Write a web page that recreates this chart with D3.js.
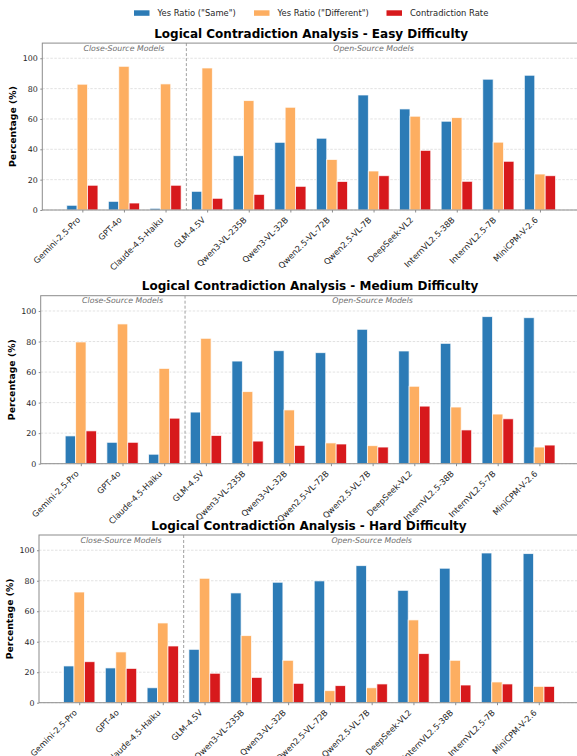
<!DOCTYPE html>
<html>
<head>
<meta charset="utf-8">
<script src="https://cdn.jsdelivr.net/npm/d3@7"></script>
<style>
  html, body { margin: 0; padding: 0; background: #fff; }
  svg { display: block; font-family: 'DejaVu Sans', sans-serif; }
</style>
</head>
<body>
<div id="chart"></div>
<script>
// data ---------------------------------------------------------------------------------------
const models = ['Gemini-2.5-Pro', 'GPT-4o', 'Claude-4.5-Haiku', 'GLM-4.5V', 'Qwen3-VL-235B',
  'Qwen3-VL-32B', 'Qwen2.5-VL-72B', 'Qwen2.5-VL-7B', 'DeepSeek-VL2', 'InternVL2.5-38B',
  'InternVL2.5-7B', 'MiniCPM-V-2.6'];
const seriesNames = ['Yes Ratio ("Same")', 'Yes Ratio ("Different")', 'Contradiction Rate'];
const seriesColors = ['#2c7bb6', '#fdae61', '#d7191c'];
const yTicks = [0, 20, 40, 60, 80, 100];

const easySame = [3.1, 5.7, 1.1, 12.3, 35.8, 44.6, 47.3, 75.8, 66.6, 58.5, 86.2, 88.8];
const easyDiff = [82.9, 94.7, 83.1, 93.6, 72.1, 67.7, 33.3, 25.7, 61.8, 60.9, 44.7, 23.7];
const easyContra = [16.3, 4.6, 16.3, 7.7, 10.3, 15.6, 18.8, 22.6, 39.3, 18.9, 32.1, 22.6];

const mediumSame = [18.2, 14.0, 6.2, 33.8, 67.2, 74.0, 72.7, 88.0, 73.8, 78.8, 96.3, 95.6];
const mediumDiff = [79.7, 91.5, 62.4, 82.1, 47.2, 35.2, 13.6, 11.8, 50.7, 37.1, 32.5, 10.9];
const mediumContra = [21.5, 14.0, 29.8, 18.5, 14.8, 12.0, 12.9, 10.9, 37.7, 22.1, 29.4, 12.2];

const hardSame = [24.1, 22.8, 9.8, 35.0, 72.0, 79.0, 79.9, 89.9, 73.7, 88.2, 98.2, 97.8];
const hardDiff = [72.6, 33.3, 52.3, 81.6, 44.0, 27.8, 7.9, 9.8, 54.3, 27.8, 13.6, 10.7];
const hardContra = [26.9, 22.5, 37.2, 19.3, 16.6, 12.7, 11.2, 12.3, 32.2, 11.6, 12.3, 10.7];

const panels = [
  {title: 'Logical Contradiction Analysis - Easy Difficulty', series: [easySame, easyDiff, easyContra]},
  {title: 'Logical Contradiction Analysis - Medium Difficulty', series: [mediumSame, mediumDiff, mediumContra]},
  {title: 'Logical Contradiction Analysis - Hard Difficulty', series: [hardSame, hardDiff, hardContra]}
];
// layout (each panel box) ------------------------------------------------------------------
const boxes = [
  {left: 42.3, right: 580, top: 43.1, bottom: 210},
  {left: 40.7, right: 579.5, top: 295.7, bottom: 463.7},
  {left: 39, right: 579, top: 535, bottom: 702.7}
];
const width = 577;
const height = 756;
const barW = 0.25;
const textColor = '#262626';
const spineColor = '#8c8c8c';

const svg = d3.select('#chart').append('svg')
  .attr('width', width)
  .attr('height', height);

// legend -------------------------------------------------------------------------------------
const legendX = [134, 254, 386.5];
const legend = svg.append('g').attr('class', 'legend');
seriesNames.forEach((name, i) => {
  legend.append('rect')
    .attr('x', legendX[i])
    .attr('y', 10.3)
    .attr('width', 15.5)
    .attr('height', 5.5)
    .attr('fill', seriesColors[i]);
  legend.append('text')
    .attr('x', legendX[i] + 23.5)
    .attr('y', 16)
    .attr('font-size', 8.4)
    .attr('fill', textColor)
    .text(name);
});

// panels -------------------------------------------------------------------------------------
panels.forEach((p, pi) => {
  const b = boxes[pi];
  const x = d3.scaleLinear().domain([-0.9625, 11.9625]).range([b.left, b.right]);
  const y = d3.scaleLinear().domain([0, 110]).range([b.bottom, b.top]);
  const g = svg.append('g').attr('class', 'panel');

  // grid
  g.append('g')
    .selectAll('line')
    .data(yTicks)
    .enter()
    .append('line')
    .attr('x1', b.left)
    .attr('x2', b.right)
    .attr('y1', d => y(d))
    .attr('y2', d => y(d))
    .attr('stroke', '#d6d6d6')
    .attr('stroke-width', 0.7)
    .attr('stroke-dasharray', '2.5,1.5');

  // bars
  p.series.forEach((vals, si) => {
    g.append('g')
      .selectAll('rect')
      .data(vals)
      .enter()
      .append('rect')
      .attr('x', (d, i) => x(i + (si - 1) * barW - barW / 2))
      .attr('y', d => y(d))
      .attr('width', x(barW) - x(0))
      .attr('height', d => y(0) - y(d))
      .attr('fill', seriesColors[si])
      .attr('stroke', '#fff')
      .attr('stroke-opacity', 0.8)
      .attr('stroke-width', 0.9);
  });

  // separator between close / open source
  g.append('line')
    .attr('x1', x(2.5))
    .attr('x2', x(2.5))
    .attr('y1', b.top)
    .attr('y2', b.bottom)
    .attr('stroke', '#a0a0a0')
    .attr('stroke-width', 1)
    .attr('stroke-dasharray', '3,2');

  g.append('text')
    .attr('x', x(1))
    .attr('y', y(107) + 3)
    .attr('text-anchor', 'middle')
    .attr('font-size', 7.8)
    .attr('font-style', 'italic')
    .attr('fill', '#6e6e6e')
    .text('Close-Source Models');
  g.append('text')
    .attr('x', x(7))
    .attr('y', y(107) + 3)
    .attr('text-anchor', 'middle')
    .attr('font-size', 7.8)
    .attr('font-style', 'italic')
    .attr('fill', '#6e6e6e')
    .text('Open-Source Models');

  // frame
  g.append('rect')
    .attr('x', b.left)
    .attr('y', b.top)
    .attr('width', b.right - b.left)
    .attr('height', b.bottom - b.top)
    .attr('fill', 'none')
    .attr('stroke', spineColor)
    .attr('stroke-width', 1);

  // y axis
  const yAxis = g.append('g')
    .attr('transform', `translate(${b.left},0)`)
    .call(d3.axisLeft(y).tickValues(yTicks).tickSize(2).tickPadding(2.5));
  yAxis.select('.domain').remove();
  yAxis.selectAll('line').attr('stroke', spineColor);
  yAxis.selectAll('text')
    .attr('font-size', 7.9)
    .attr('font-family', 'DejaVu Sans')
    .attr('fill', textColor);

  // x axis
  const xAxis = g.append('g')
    .attr('transform', `translate(0,${b.bottom})`)
    .call(d3.axisBottom(x).tickValues(d3.range(models.length)).tickSize(2.5).tickFormat(''));
  xAxis.select('.domain').remove();
  xAxis.selectAll('line').attr('stroke', spineColor);
  g.append('g')
    .selectAll('text')
    .data(models)
    .enter()
    .append('text')
    .attr('transform', (d, i) => `translate(${x(i) - 1.5},${b.bottom + 10.5}) rotate(-45)`)
    .attr('text-anchor', 'end')
    .attr('font-size', 8.3)
    .attr('fill', textColor)
    .text(d => d);

  // y label
  g.append('text')
    .attr('transform', `translate(${b.left - 26},${(b.top + b.bottom) / 2}) rotate(-90)`)
    .attr('text-anchor', 'middle')
    .attr('font-size', 9.3)
    .attr('font-weight', 'bold')
    .attr('fill', '#000')
    .text('Percentage (%)');

  // title
  svg.append('text')
    .attr('x', (b.left + b.right) / 2)
    .attr('y', b.top - 5.5)
    .attr('text-anchor', 'middle')
    .attr('font-size', 12)
    .attr('font-weight', 'bold')
    .attr('fill', '#000')
    .text(p.title);
});
</script>
</body>
</html>
